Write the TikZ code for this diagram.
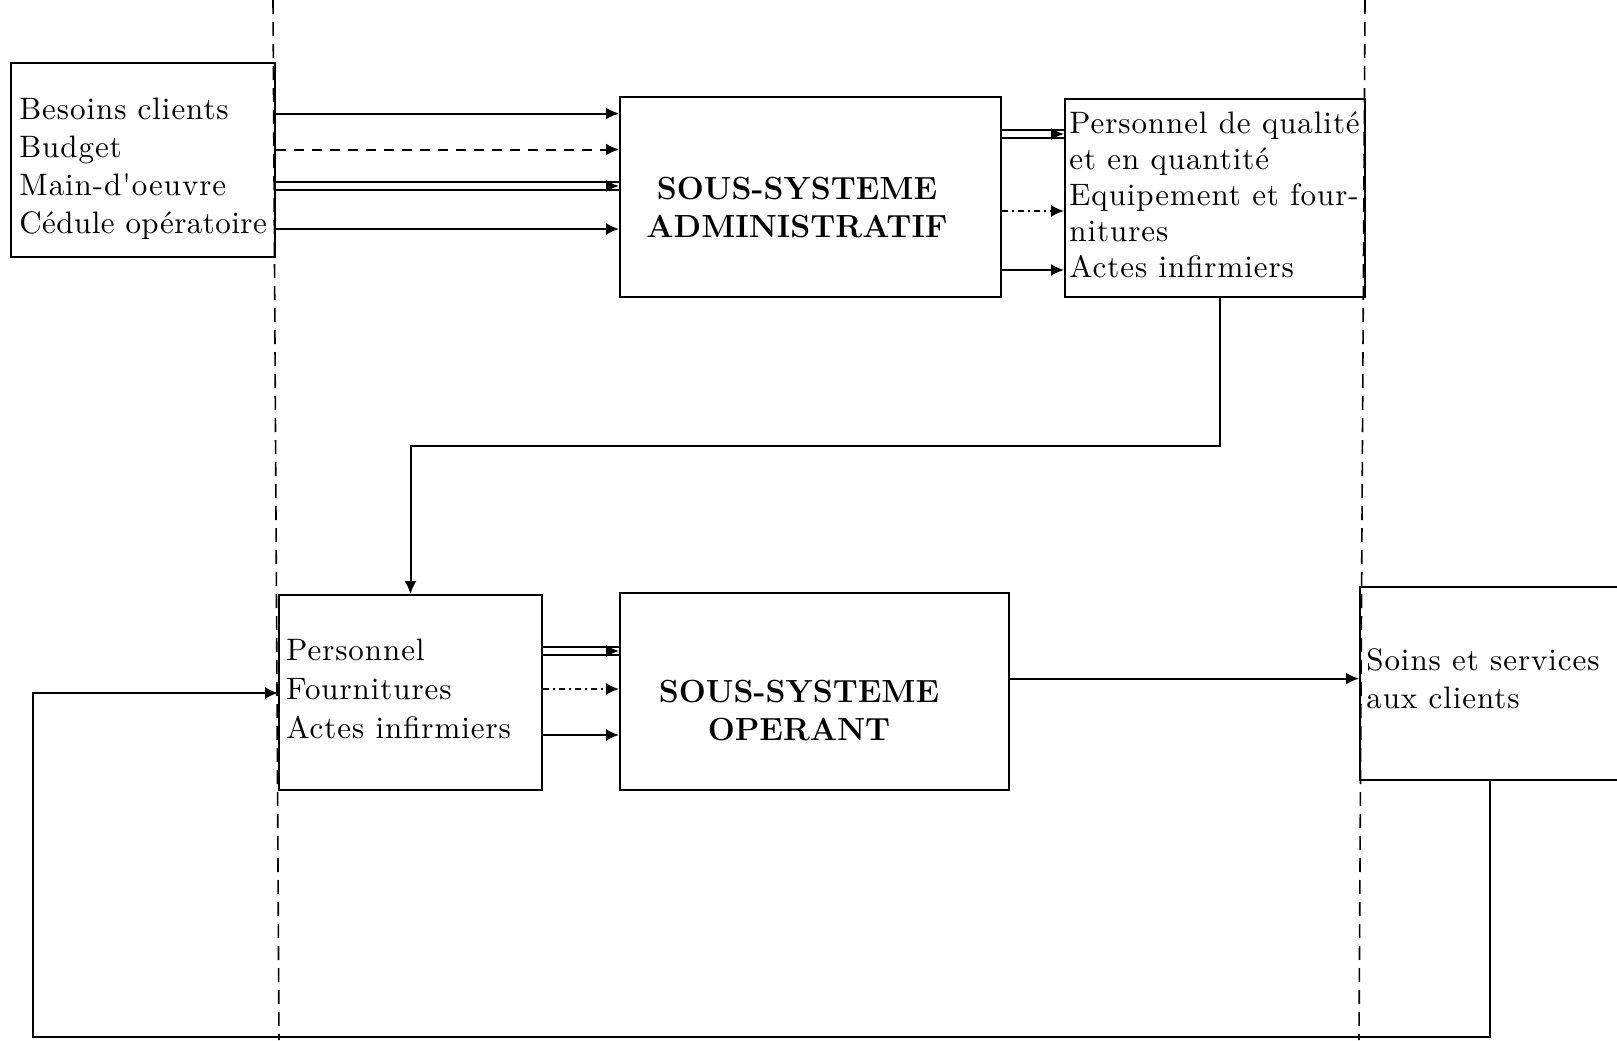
\documentclass[tikz,border=0pt]{standalone}
\usetikzlibrary{arrows.meta,calc}
% body text: the 10pt design of Latin Modern, slightly letter-spaced
\font\diagbody="[lmroman10-regular]:letterspace=3" at 15.5pt
\font\diagbodytight="[lmroman10-regular]:letterspace=1.5" at 15.5pt
\begin{document}
\begin{tikzpicture}[x=0.5pt,y=-0.5pt,
  box/.style={draw, line width=1pt, rectangle, inner sep=0pt, anchor=north west},
  txt/.style={anchor=north west, align=left, inner sep=0pt},
  title/.style={align=center, inner sep=0pt, font=\fontsize{16}{19}\selectfont\bfseries},
  flow/.style={line width=1pt, -{Latex[length=6.5pt,width=6pt]}},
  plain/.style={line width=1pt},
  sep/.style={line width=0.8pt, dash pattern=on 7pt off 4pt},
  dashflow/.style={flow, dash pattern=on 5pt off 4pt},
  dotflow/.style={flow, dash pattern=on 3pt off 2pt on 1pt off 2pt},
]
\useasboundingbox (0,0) rectangle (1617,1040);
\fill[white] (0,0) rectangle (1617,1040);
\clip (0,0) rectangle (1617,1040);

% boundary separators
\draw[sep] (273,0) -- (279,1040);
\draw[sep] (1365,0) -- (1359,1040);

% boxes
\node[box, minimum width=132pt, minimum height=97pt] (inbox) at (10,62) {};
\node[box, minimum width=190.5pt, minimum height=100pt] (admin) at (619,96) {};
\node[box, minimum width=150pt, minimum height=99pt] (outbox) at (1064,98) {};
\node[box, minimum width=131.5pt, minimum height=97.5pt] (opin) at (278,594) {};
\node[box, minimum width=194.25pt, minimum height=98.5pt] (operant) at (619,592) {};
\node[box, minimum width=175pt, minimum height=96.5pt] (clients) at (1359,586) {};

% texts
\node[txt, font={\fontsize{15.5}{19}\selectfont\diagbody}] (inboxtxt) at (19,98)
  {Besoins clients\\Budget\\Main-d'oeuvre\\{\diagbodytight Cédule opératoire}};
\node[title] (admintxt) at (797,208) {SOUS-SYSTEME\\ADMINISTRATIF};
\node[txt, font={\fontsize{15.5}{18}\selectfont\diagbody}] (outboxtxt) at (1069,111)
  {Personnel de qualité\\et en quantité\\Equipement et four-\\nitures\\Actes infirmiers};
\node[txt, font={\fontsize{15.5}{19.5}\selectfont\diagbody}] (opintxt) at (286,639)
  {Personnel\\Fournitures\\Actes infirmiers};
\node[title] (operanttxt) at (799,711) {SOUS-SYSTEME\\OPERANT};
\node[txt, font={\fontsize{15.5}{19}\selectfont\diagbody}] (clientstxt) at (1366,648)
  {Soins et services\\aux clients};

% inputs of the administrative subsystem
\draw[flow] (inbox.east |- 0,113.5) -- (admin.west |- 0,113.5);
\draw[dashflow] (inbox.east |- 0,149.5) -- (admin.west |- 0,149.5);
\draw[plain] (inbox.east |- 0,182) -- (admin.west |- 0,182);
\draw[plain] (inbox.east |- 0,190) -- (admin.west |- 0,190);
\draw[flow] ($(admin.west |- 0,186)+(-12,0)$) -- (admin.west |- 0,186);
\draw[flow] (inbox.east |- 0,229) -- (admin.west |- 0,229);

% outputs of the administrative subsystem
\draw[plain] (admin.east |- 0,130) -- (outbox.west |- 0,130);
\draw[plain] (admin.east |- 0,138) -- (outbox.west |- 0,138);
\draw[flow] ($(outbox.west |- 0,134)+(-12,0)$) -- (outbox.west |- 0,134);
\draw[dotflow] (admin.east |- 0,211) -- (outbox.west |- 0,211);
\draw[flow] (admin.east |- 0,270) -- (outbox.west |- 0,270);

% link down to the operating inputs
\draw[flow] (1220,0 |- outbox.south) -- (1220,445.5) -- (410.5,445.5) -- (410.5,0 |- opin.north);

% inputs of the operating subsystem
\draw[plain] (opin.east |- 0,647) -- (operant.west |- 0,647);
\draw[plain] (opin.east |- 0,655) -- (operant.west |- 0,655);
\draw[flow] ($(operant.west |- 0,651)+(-12,0)$) -- (operant.west |- 0,651);
\draw[dotflow] (opin.east |- 0,689) -- (operant.west |- 0,689);
\draw[flow] (opin.east |- 0,735) -- (operant.west |- 0,735);

% output and feedback
\draw[flow] (operant.east |- 0,678.6) -- (clients.west |- 0,678.6);
\draw[flow] (1490,0 |- clients.south) -- (1490,1036.5) -- (33,1036.5) -- (33,693) -- (opin.west |- 0,693);
\end{tikzpicture}
\end{document}
